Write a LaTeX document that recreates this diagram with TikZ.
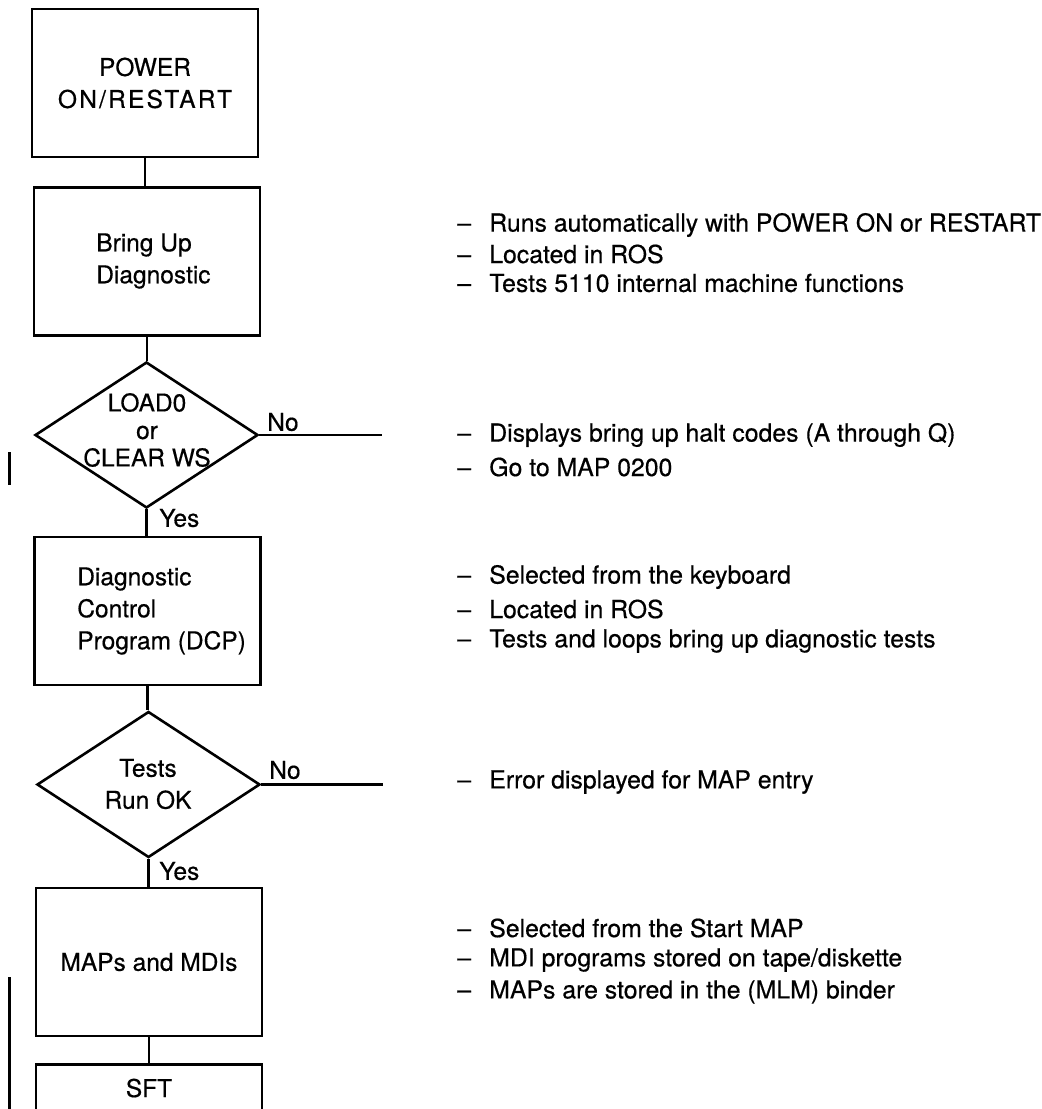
\documentclass[tikz,border=0pt]{standalone}
\usepackage{fontspec}
\setmainfont{TeX Gyre Heros}[UprightFeatures={FakeBold=0.5}]
\usetikzlibrary{shapes.geometric}
\newcommand\ditem[1]{\makebox[32pt][l]{–}#1}
\begin{document}
\begin{tikzpicture}[x=1pt,y=-1pt,line width=2.6pt,
  box/.style={draw,rectangle,minimum width=226pt,minimum height=148pt,inner sep=0pt,
    font=\fontsize{24.5}{32}\selectfont,align=center},
  dec/.style={draw,diamond,minimum width=223pt,minimum height=146pt,inner sep=0pt},
  lbl/.style={font=\fontsize{24.5}{32}\selectfont,inner sep=0pt,align=center},
  note/.style={font=\fontsize{24.8}{32}\selectfont,anchor=west,inner sep=0pt},
  bar/.style={line width=3pt}]
\useasboundingbox (0,0) rectangle (1042,1109);
\clip (0,0) rectangle (1042,1109);
% flow boxes
\node[box] (p) at (145,83) {POWER\\{\addfontfeature{LetterSpace=9}ON/RESTART}};
\node[box] (b) at (147,261.5) {};
\node[lbl,align=left,anchor=west] (bt) at (95,261) {Bring Up\\Diagnostic};
\node[dec] (d1) at (146.5,435) {};
\node[lbl,font=\fontsize{24.5}{27.5}\selectfont] (d1t) at (147,430) {LOAD0\\or\\CLEAR WS};
\node[box] (c) at (147.5,611) {};
\node[lbl,align=left,anchor=west] (ct) at (76,611) {Diagnostic\\Control\\Program (DCP)};
\node[dec] (d2) at (148.5,784.5) {};
\node[lbl] (d2t) at (148,784) {Tests\\Run OK};
\node[box] (m) at (149,962) {MAPs and MDIs};
\node[box,anchor=north] (s) at (149,1063) {};
\node[lbl,anchor=base] (st) at (149,1097) {SFT};
% connectors
\draw (p.south) -- (p.south |- b.north);
\draw (b.south) -- (b.south |- d1.north);
\draw (d1.south) -- (d1.south |- c.north);
\draw (c.south) -- (c.south |- d2.north);
\draw (d2.south) -- (d2.south |- m.north);
\draw (m.south) -- (m.south |- s.north);
\coordinate (n1) at (382,435);
\coordinate (n2) at (383,784.5);
\draw (d1.east) -- (n1);
\draw (d2.east) -- (n2);
\node[lbl,anchor=west] (no1) at (266,422) {No};
\node[lbl,anchor=west] (yes1) at (158,518) {Yes};
\node[lbl,anchor=west] (no2) at (268,770) {No};
\node[lbl,anchor=west] (yes2) at (158,871) {Yes};
% change bars
\draw[bar] (9,452) -- (9,485);
\draw[bar] (9,977) -- (9,1109);
% notes
\node[note] (a1) at (456,225) {\ditem{Runs automatically with POWER ON or RESTART}};
\node[note] (a2) at (456,254) {\ditem{Located in ROS}};
\node[note] (a3) at (456,283) {\ditem{Tests 5110 internal machine functions}};
\node[note] (h1) at (456,435) {\ditem{Displays bring up halt codes (A through Q)}};
\node[note] (h2) at (456,467) {\ditem{Go to MAP 0200}};
\node[note] (k1) at (456,577) {\ditem{Selected from the keyboard}};
\node[note] (k2) at (456,609) {\ditem{Located in ROS}};
\node[note] (k3) at (456,641) {\ditem{Tests and loops bring up diagnostic tests}};
\node[note] (e1) at (456,782) {\ditem{Error displayed for MAP entry}};
\node[note] (s1) at (456,928) {\ditem{Selected from the Start MAP}};
\node[note] (s2) at (456,960) {\ditem{MDI programs stored on tape/diskette}};
\node[note] (s3) at (456,992) {\ditem{MAPs are stored in the (MLM) binder}};
\end{tikzpicture}
\end{document}
